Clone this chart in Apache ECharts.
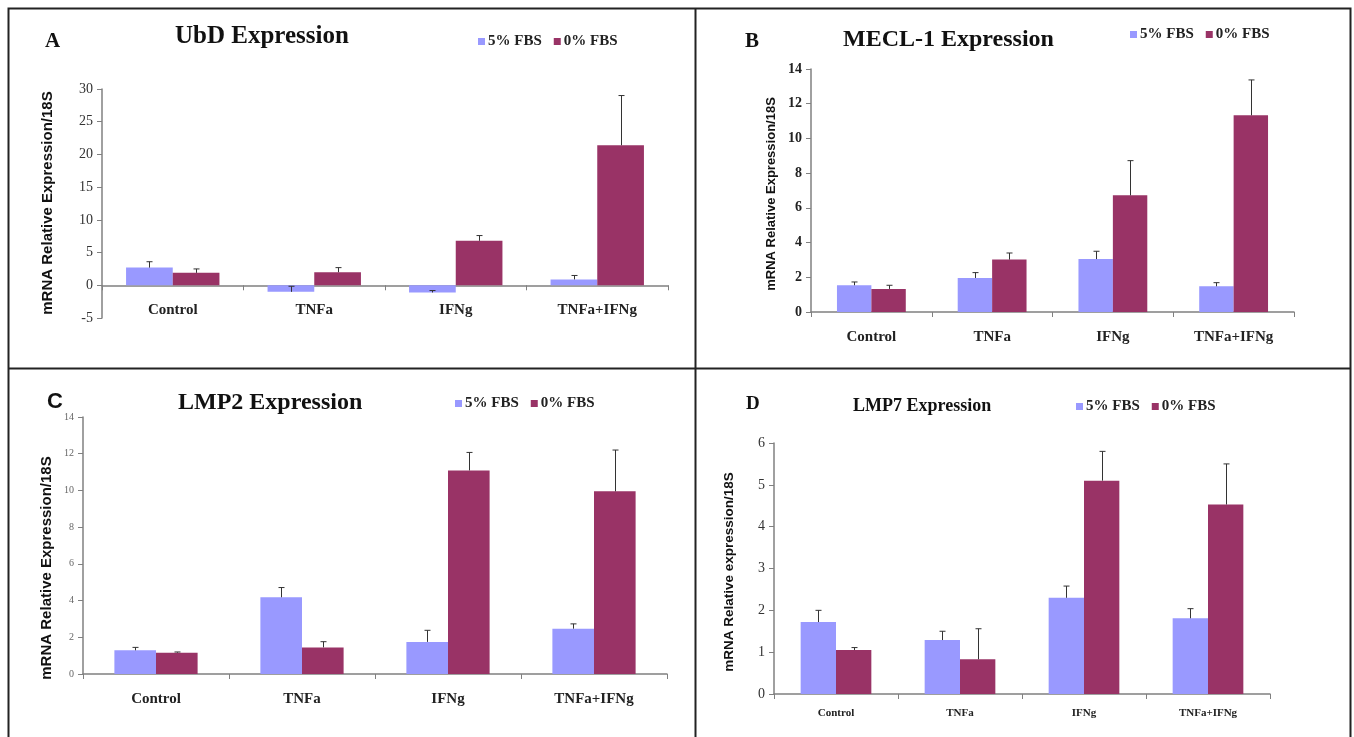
<!DOCTYPE html>
<html>
<head>
<meta charset="utf-8">
<script src="https://cdn.jsdelivr.net/npm/echarts@6/dist/echarts.min.js"></script>
<style>
  html, body { margin: 0; padding: 0; background: #fff; }
</style>
</head>
<body>
<div id="chart" style="width:1354px;height:737px"></div>
<script>
// data
const categories = ['Control', 'TNFa', 'IFNg', 'TNFa+IFNg'];
const seriesNames = ['5% FBS', '0% FBS'];

const ubd5 = [2.7, -1.0, -1.1, 0.9];
const ubd5Err = [0.9, 0.85, 0.3, 0.6];
const ubd0 = [1.9, 2.0, 6.8, 21.4];
const ubd0Err = [0.6, 0.7, 0.8, 7.6];

const mecl5 = [1.54, 1.96, 3.05, 1.48];
const mecl5Err = [0.19, 0.31, 0.45, 0.21];
const mecl0 = [1.33, 3.02, 6.72, 11.33];
const mecl0Err = [0.21, 0.38, 2.0, 2.04];

const lmp2_5 = [1.29, 4.18, 1.75, 2.47];
const lmp2_5Err = [0.16, 0.53, 0.63, 0.26];
const lmp2_0 = [1.16, 1.45, 11.09, 9.95];
const lmp2_0Err = [0.04, 0.31, 0.98, 2.25];

const lmp7_5 = [1.72, 1.29, 2.30, 1.81];
const lmp7_5Err = [0.28, 0.21, 0.28, 0.23];
const lmp7_0 = [1.05, 0.83, 5.10, 4.53];
const lmp7_0Err = [0.06, 0.73, 0.70, 0.97];

const BLUE = '#9999ff';
const MAROON = '#993366';
const SERIF = '"Liberation Serif", "Times New Roman", serif';
const SANS = '"Liberation Sans", Arial, sans-serif';

// panel setup: grid box, y range, bar ratio, fonts
const panels = [
  { letter: 'A', title: 'UbD Expression', s5: ubd5, e5: ubd5Err, s0: ubd0, e0: ubd0Err,
    grid: { left: 102, right: 686, top: 89, bottom: 419 }, min: -5, max: 30, interval: 5,
    gap: '34%', ratio: 0.33, yName: 'mRNA Relative Expression/18S', nameSize: 15, namePos: [48, 203],
    tick: { fontFamily: SERIF, fontSize: 14, color: '#333' }, catSize: 15, catMargin: -15,
    letterPos: [45, 31, 21, SERIF], titlePos: [175, 24, 25], legendPos: [478, 34, 15] },
  { letter: 'B', title: 'MECL-1 Expression', s5: mecl5, e5: mecl5Err, s0: mecl0, e0: mecl0Err,
    grid: { left: 811, right: 60, top: 69, bottom: 425 }, min: 0, max: 14, interval: 2,
    gap: '43%', ratio: 0.285, yName: 'mRNA Relative Expression/18S', nameSize: 13, namePos: [771, 194],
    tick: { fontFamily: SERIF, fontSize: 14, color: '#222', fontWeight: 'bold' }, catSize: 15, catMargin: 18,
    letterPos: [745, 31, 21, SERIF], titlePos: [843, 28, 24], legendPos: [1130, 27, 15] },
  { letter: 'C', title: 'LMP2 Expression', s5: lmp2_5, e5: lmp2_5Err, s0: lmp2_0, e0: lmp2_0Err,
    grid: { left: 83, right: 687, top: 417, bottom: 63 }, min: 0, max: 14, interval: 2,
    gap: '43%', ratio: 0.285, yName: 'mRNA Relative Expression/18S', nameSize: 15, namePos: [47, 568],
    tick: { fontFamily: SERIF, fontSize: 10, color: '#666' }, catSize: 15, catMargin: 18,
    letterPos: [47, 391, 22, SANS], titlePos: [178, 391, 24], legendPos: [455, 396, 15] },
  { letter: 'D', title: 'LMP7 Expression', s5: lmp7_5, e5: lmp7_5Err, s0: lmp7_0, e0: lmp7_0Err,
    grid: { left: 774, right: 84, top: 443, bottom: 43 }, min: 0, max: 6, interval: 1,
    gap: '43%', ratio: 0.285, yName: 'mRNA Relative expression/18S', nameSize: 13.5, namePos: [729, 572],
    tick: { fontFamily: SERIF, fontSize: 14, color: '#333' }, catSize: 11, catMargin: 14,
    letterPos: [746, 395, 19, SERIF], titlePos: [853, 397, 18], legendPos: [1076, 399, 15] }
];

const myChart = echarts.init(document.getElementById('chart'));

function errorSeries(gi, values, errs, side, ratio) {
  return {
    type: 'custom',
    xAxisIndex: gi, yAxisIndex: gi,
    z: 5, silent: true,
    data: values.map((v, i) => [i, v, v + errs[i]]),
    renderItem: function (params, api) {
      const band = api.size([1, 0])[0];
      const off = side * band * ratio / 2;
      const p1 = api.coord([api.value(0), api.value(1)]);
      const p2 = api.coord([api.value(0), api.value(2)]);
      const x = Math.round(p1[0] + off) + 0.5;
      const style = { stroke: '#333', lineWidth: 1 };
      return {
        type: 'group',
        children: [
          { type: 'line', shape: { x1: x, y1: p1[1], x2: x, y2: p2[1] }, style: style },
          { type: 'line', shape: { x1: x - 3, y1: p2[1], x2: x + 3, y2: p2[1] }, style: style }
        ]
      };
    }
  };
}

const grids = [], xAxes = [], yAxes = [], series = [], titles = [], legends = [], names = [];
panels.forEach((p, gi) => {
  grids.push(Object.assign({ containLabel: false }, p.grid));
  xAxes.push({
    type: 'category', gridIndex: gi, data: categories,
    axisLine: { onZero: true, lineStyle: { color: '#808080', width: 1.5 } },
    axisTick: { show: true, length: 5, lineStyle: { color: '#808080' } },
    axisLabel: { margin: p.catMargin, fontFamily: SERIF, fontWeight: 'bold', fontSize: p.catSize, color: '#222' },
    splitLine: { show: false }
  });
  yAxes.push({
    type: 'value', gridIndex: gi, min: p.min, max: p.max, interval: p.interval,
    axisLine: { show: true, lineStyle: { color: '#808080', width: 1.5 } },
    axisTick: { show: true, length: 5, lineStyle: { color: '#808080' } },
    axisLabel: Object.assign({ margin: 9 }, p.tick),
    splitLine: { show: false }
  });
  series.push({
    name: seriesNames[0], type: 'bar', xAxisIndex: gi, yAxisIndex: gi, data: p.s5,
    itemStyle: { color: BLUE }, barGap: '0%', barCategoryGap: p.gap
  });
  series.push({
    name: seriesNames[1], type: 'bar', xAxisIndex: gi, yAxisIndex: gi, data: p.s0,
    itemStyle: { color: MAROON }, barGap: '0%', barCategoryGap: p.gap
  });
  series.push(errorSeries(gi, p.s5, p.e5, -1, p.ratio));
  series.push(errorSeries(gi, p.s0, p.e0, 1, p.ratio));

  titles.push({
    text: p.letter, left: p.letterPos[0], top: p.letterPos[1], padding: 0,
    textStyle: { fontFamily: p.letterPos[3], fontWeight: 'bold', fontSize: p.letterPos[2], color: '#111' }
  });
  titles.push({
    text: p.title, left: p.titlePos[0], top: p.titlePos[1], padding: 0,
    textStyle: { fontFamily: SERIF, fontWeight: 'bold', fontSize: p.titlePos[2], color: '#111' }
  });
  legends.push({
    data: seriesNames, left: p.legendPos[0], top: p.legendPos[1], padding: 0,
    orient: 'horizontal', icon: 'rect', itemWidth: 7, itemHeight: 7, itemGap: 12,
    textStyle: { fontFamily: SERIF, fontWeight: 'bold', fontSize: p.legendPos[2], color: '#222', padding: [0, 0, 0, -2] }
  });
  // rotated y-axis title
  names.push({
    type: 'text', x: p.namePos[0], y: p.namePos[1], rotation: Math.PI / 2, silent: true,
    style: { text: p.yName, fontFamily: SANS, fontWeight: 'bold', fontSize: p.nameSize, fill: '#111',
             align: 'center', verticalAlign: 'middle' }
  });
});

const option = {
  backgroundColor: '#fff',
  animation: false,
  title: titles,
  legend: legends,
  grid: grids,
  xAxis: xAxes,
  yAxis: yAxes,
  series: series,
  // panel frames and axis titles
  graphic: [
    { type: 'rect', shape: { x: 8.5, y: 8.5, width: 1342, height: 740 }, style: { fill: null, stroke: '#222', lineWidth: 2 }, silent: true },
    { type: 'line', shape: { x1: 695.5, y1: 8, x2: 695.5, y2: 737 }, style: { stroke: '#222', lineWidth: 2 }, silent: true },
    { type: 'line', shape: { x1: 8, y1: 368.5, x2: 1351, y2: 368.5 }, style: { stroke: '#222', lineWidth: 2 }, silent: true }
  ].concat(names)
};

myChart.setOption(option);
window.addEventListener('resize', () => { myChart.resize(); });
</script>
</body>
</html>
